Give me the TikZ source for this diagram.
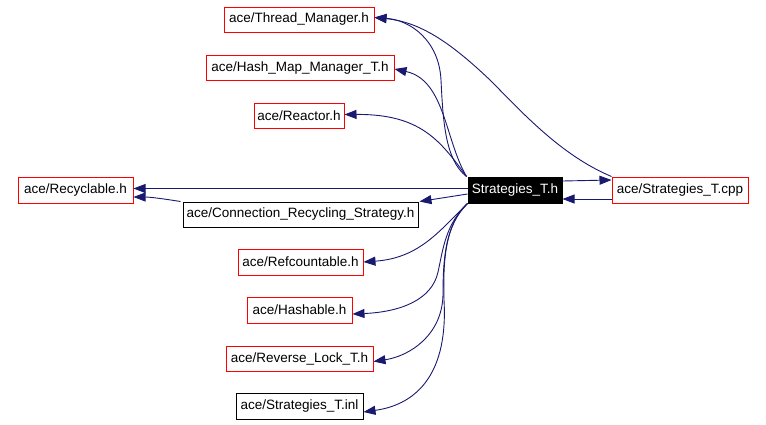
\documentclass[tikz,border=0pt]{standalone}
\usepackage{fontspec}
\setmainfont{Liberation Sans}
\usetikzlibrary{arrows.meta}
\definecolor{edgeblue}{RGB}{25,25,112}
\definecolor{boxred}{RGB}{255,0,0}
\tikzset{
  filebox/.style={draw=boxred, line width=1pt, inner sep=0pt, minimum height=25pt, font=\fontsize{13.5}{16}\selectfont, text=black},
  plainbox/.style={filebox, draw=black},
  mainbox/.style={filebox, draw=black, fill=black, text=white},
  dep/.style={draw=edgeblue, line width=0.9pt, -{Triangle[length=12pt,width=9pt]}, fill=none},
}
\begin{document}
\begin{tikzpicture}[x=1pt,y=-1pt]
\useasboundingbox (0,0) rectangle (766,424);
\node[filebox, minimum width=150pt] (tm) at (299,19.5) {ace/Thread\_Manager.h};
\node[filebox, minimum width=188pt] (hm) at (300,68) {ace/Hash\_Map\_Manager\_T.h};
\node[filebox, minimum width=90pt] (re) at (299,115.5) {ace/Reactor.h};
\node[filebox, minimum width=115pt, minimum height=26pt] (rc) at (75.5,190) {ace/Recyclable.h};
\node[plainbox, minimum width=235pt] (crs) at (300.5,214.5) {ace/Connection\_Recycling\_Strategy.h};
\node[mainbox, minimum width=94pt, minimum height=26pt] (st) at (515,190) {Strategies\_T.h};
\node[filebox, minimum width=136pt, minimum height=26pt] (cpp) at (680,190) {ace/Strategies\_T.cpp};
\node[filebox, minimum width=125pt, minimum height=26pt] (rf) at (300.5,262) {ace/Refcountable.h};
\node[filebox, minimum width=105pt, minimum height=26pt] (ha) at (299.5,310) {ace/Hashable.h};
\node[filebox, minimum width=147pt] (rl) at (299.5,358.5) {ace/Reverse\_Lock\_T.h};
\node[plainbox, minimum width=127pt, minimum height=26pt] (inl) at (299.5,406) {ace/Strategies\_T.inl};

% upper includes
\draw[dep] ([xshift=-1pt]st.north west) .. controls (445,160) and (443,120) .. (441,80)
  .. controls (439,40) and (410,20) .. ([yshift=2pt]tm.east);
\draw[dep] (cpp.north west) .. controls (560,155) and (520,110) .. (490,80)
  .. controls (450,42) and (420,22) .. ([yshift=2pt]tm.east);
\draw[dep] ([xshift=-1pt]st.north west) .. controls (445,140) and (445,80) .. ([yshift=-1pt]hm.east);
\draw[dep] ([xshift=-1pt]st.north west) .. controls (440,140) and (420,114) .. ([yshift=1pt]re.east);

% horizontal
\draw[dep] ([yshift=1.5pt]st.west) -- ([yshift=1.5pt]rc.east);
\draw[dep] ([xshift=-2pt]crs.north west) .. controls (165,199) and (150,197) .. ([yshift=-7pt]rc.east);
\draw[dep] ([yshift=-4pt]st.west) -- ([xshift=1pt]crs.north east);
\draw[dep] ([yshift=9pt]st.east) -- ([yshift=10pt]cpp.west);
\draw[dep] ([yshift=-9pt]cpp.west) -- ([yshift=-9pt]st.east);

% lower includes
\draw[dep] (st.south west) .. controls (440,230) and (420,258) .. (rf.east);
\draw[dep] (st.south west) .. controls (445,225) and (443,250) .. (438,272)
  .. controls (432,300) and (400,312) .. ([yshift=-4pt]ha.east);
\draw[dep] (st.south west) .. controls (445,225) and (443,260) .. (443,295)
  .. controls (442,335) and (410,356) .. ([yshift=-3pt]rl.east);
\draw[dep] (st.south west) .. controls (445,225) and (443,260) .. (444,300)
  .. controls (448,370) and (420,404) .. ([yshift=-6pt]inl.east);
\end{tikzpicture}
\end{document}
